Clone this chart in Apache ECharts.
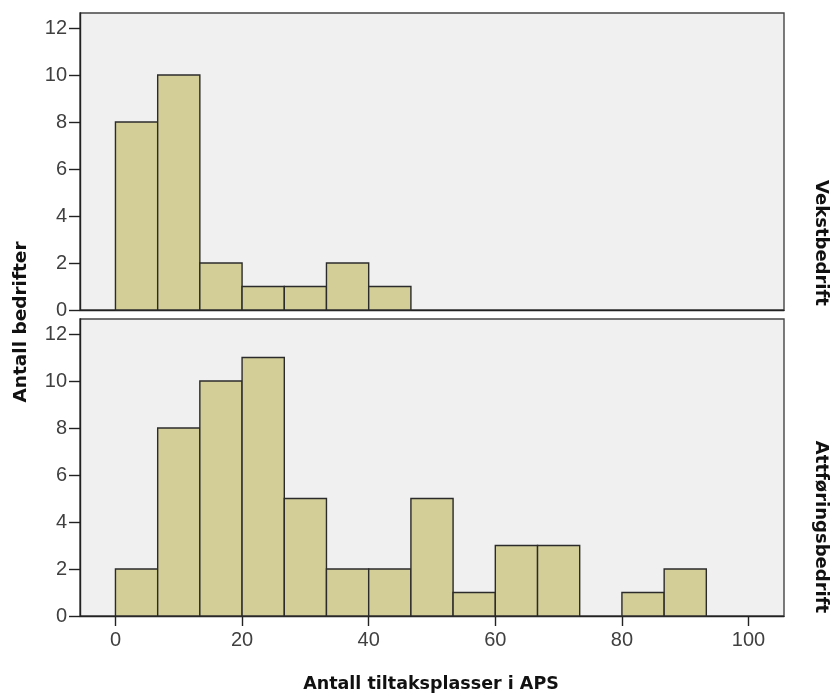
<!DOCTYPE html>
<html>
<head>
<meta charset="utf-8">
<script src="https://cdn.jsdelivr.net/npm/echarts@6/dist/echarts.min.js"></script>
<style>
  html, body { margin: 0; padding: 0; background: #fff; }
  #chart { width: 834px; height: 696px; }
</style>
</head>
<body>
<div id="chart"></div>
<script>
// Histogram bin edges (Antall tiltaksplasser i APS)
const binEdges = [0, 6.67, 13.33, 20, 26.67, 33.33, 40, 46.67, 53.33, 60, 66.67, 73.33, 80, 86.67, 93.33];
// Counts per bin for each panel
const countsVekst = [8, 10, 2, 1, 1, 2, 1, 0, 0, 0, 0, 0, 0, 0];
const countsAttforing = [2, 8, 10, 11, 5, 2, 2, 5, 1, 3, 3, 0, 1, 2];
const panelNames = ['Vekstbedrift', 'Attføringsbedrift'];
const xTicks = [0, 20, 40, 60, 80, 100];
const yTicks = [0, 2, 4, 6, 8, 10, 12];

function binData(counts) {
  const out = [];
  counts.forEach((c, i) => {
    if (c > 0) out.push([binEdges[i], binEdges[i + 1], c]);
  });
  return out;
}

// Each bin is a rectangle spanning its edges, from 0 up to its count
function renderBin(params, api) {
  const p0 = api.coord([api.value(0), 0]);
  const p1 = api.coord([api.value(1), api.value(2)]);
  return {
    type: 'rect',
    shape: { x: p0[0], y: p1[1], width: p1[0] - p0[0], height: p0[1] - p1[1] },
    style: { fill: '#d3ce97', stroke: '#2b2b2b', lineWidth: 1.4 }
  };
}

const chart = echarts.init(document.getElementById('chart'), null, { renderer: 'canvas' });

const labelStyle = { color: '#404040', fontSize: 20, fontFamily: 'Liberation Sans' };
const titleFont = 'bold 18px "DejaVu Sans"';

function xAxisFor(gridIndex, showLabels) {
  return {
    type: 'value', gridIndex, min: -5.6, max: 105.6,
    splitLine: { show: false },
    axisLine: { show: true, onZero: false, lineStyle: { color: '#222', width: 1.4 } },
    axisTick: { show: showLabels, length: 10, lineStyle: { color: '#222', width: 1.4 }, customValues: xTicks },
    axisLabel: Object.assign({ show: showLabels, margin: 14, customValues: xTicks }, labelStyle)
  };
}
function yAxisFor(gridIndex) {
  return {
    type: 'value', gridIndex, min: 0, max: 12.64,
    splitLine: { show: false },
    axisLine: { show: true, onZero: false, lineStyle: { color: '#222', width: 1.4 } },
    axisTick: { show: true, length: 11, lineStyle: { color: '#222', width: 1.4 }, customValues: yTicks },
    axisLabel: Object.assign({ margin: 13, customValues: yTicks }, labelStyle)
  };
}

chart.setOption({
  animation: false,
  backgroundColor: '#ffffff',
  grid: [
    { left: 80, right: 50, top: 13, height: 297, show: true, backgroundColor: '#f0f0f0', borderColor: '#444', borderWidth: 1.4 },
    { left: 80, right: 50, top: 319, height: 297, show: true, backgroundColor: '#f0f0f0', borderColor: '#444', borderWidth: 1.4 }
  ],
  xAxis: [xAxisFor(0, false), xAxisFor(1, true)],
  yAxis: [yAxisFor(0), yAxisFor(1)],
  series: [
    { type: 'custom', xAxisIndex: 0, yAxisIndex: 0, renderItem: renderBin, data: binData(countsVekst), encode: { x: [0, 1], y: 2 } },
    { type: 'custom', xAxisIndex: 1, yAxisIndex: 1, renderItem: renderBin, data: binData(countsAttforing), encode: { x: [0, 1], y: 2 } }
  ],
  graphic: [
    { type: 'text', x: 21, y: 322, rotation: Math.PI / 2,
      style: { text: 'Antall bedrifter', fill: '#111', font: 'bold 18.5px "DejaVu Sans"', align: 'center', verticalAlign: 'middle' } },
    { type: 'text', x: 431, y: 684,
      style: { text: 'Antall tiltaksplasser i APS', fill: '#111', font: 'bold 17.5px "DejaVu Sans"', align: 'center', verticalAlign: 'middle' } },
    { type: 'text', x: 821, y: 243, rotation: -Math.PI / 2,
      style: { text: panelNames[0], fill: '#111', font: titleFont, align: 'center', verticalAlign: 'middle' } },
    { type: 'text', x: 821, y: 527, rotation: -Math.PI / 2,
      style: { text: panelNames[1], fill: '#111', font: titleFont, align: 'center', verticalAlign: 'middle' } }
  ]
});
</script>
</body>
</html>
